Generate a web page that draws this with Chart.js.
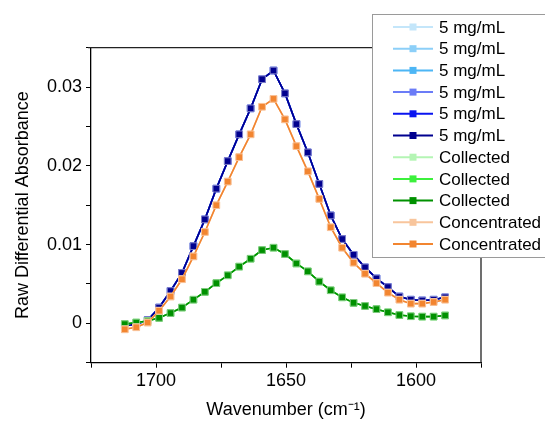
<!DOCTYPE html>
<html>
<head>
<meta charset="utf-8">
<script src="https://cdn.jsdelivr.net/npm/chart.js@4.4.1/dist/chart.umd.min.js"></script>
<style>
  html, body { margin: 0; padding: 0; background: #fff; }
  #wrap { width: 545px; height: 421px; }
</style>
</head>
<body>
<div id="wrap"><canvas id="myChart" width="545" height="421"></canvas></div>
<script>
// wavenumbers (cm-1)
const wavenumber = [1712.0, 1707.6, 1703.2, 1698.8, 1694.4, 1690.0, 1685.6, 1681.2, 1676.8, 1672.4,
    1668.0, 1663.6, 1659.2, 1654.8, 1650.4, 1646.0, 1641.6, 1637.2, 1632.8, 1628.4,
    1624.0, 1619.6, 1615.2, 1610.8, 1606.4, 1602.0, 1597.6, 1593.2, 1588.8];

// the 5 mg/mL traces sit on top of each other
const fiveMg = [-0.0003, -0.0001, 0.0004, 0.0020, 0.0041, 0.0064, 0.0098, 0.0132, 0.0171, 0.0206,
    0.0240, 0.0273, 0.0310, 0.0321, 0.0292, 0.0253, 0.0217, 0.0177, 0.0137, 0.0107,
    0.0087, 0.0071, 0.0057, 0.0046, 0.0034, 0.0030, 0.0029, 0.0030, 0.0033];

const collected = [-0.0001, 0.0001, 0.0003, 0.0007, 0.0013, 0.0020, 0.0030, 0.0040, 0.0051, 0.0061,
    0.0072, 0.0082, 0.0093, 0.0096, 0.0088, 0.0076, 0.0066, 0.0053, 0.0042, 0.0033,
    0.0026, 0.0022, 0.0018, 0.0014, 0.00105, 0.0009, 0.00085, 0.00085, 0.0010];

const concentrated = [-0.00076, -0.0005, 0.0001, 0.0016, 0.0034, 0.0056, 0.0085, 0.0116, 0.0150, 0.0180,
    0.0211, 0.0240, 0.0275, 0.0285, 0.0259, 0.0225, 0.0193, 0.0158, 0.0122, 0.0096,
    0.0077, 0.0063, 0.0051, 0.0039, 0.0030, 0.0025, 0.0025, 0.0027, 0.0030];

const seriesLabels = ['5 mg/mL', '5 mg/mL', '5 mg/mL', '5 mg/mL', '5 mg/mL', '5 mg/mL',
    'Collected', 'Collected', 'Collected', 'Concentrated', 'Concentrated'];
const seriesValues = [fiveMg, fiveMg, fiveMg, fiveMg, fiveMg, fiveMg,
    collected, collected, collected, concentrated, concentrated];
const seriesColors = ['#c4e6fa', '#8ccff8', '#4db6f5', '#6b7cf7', '#0a14f0', '#00008f',
    '#b4f5b4', '#3cf03c', '#009100', '#f8c59c', '#f28530'];
const yMajorTicks = [0, 0.01, 0.02, 0.03];

const FONT = "'Liberation Sans', Arial, sans-serif";

function tint(hex, k) {
    const n = parseInt(hex.slice(1), 16);
    const r = (n >> 16) & 255, g = (n >> 8) & 255, b = n & 255;
    const m = c => Math.round(c + (255 - c) * k);
    return 'rgb(' + m(r) + ',' + m(g) + ',' + m(b) + ')';
}

// frame on top/right of plot
const framePlugin = {
    id: 'frame',
    afterDatasetsDraw(chart) {
        const { ctx, chartArea: a } = chart;
        ctx.save();
        ctx.strokeStyle = '#222';
        ctx.lineWidth = 1.3;
        ctx.beginPath();
        ctx.moveTo(a.left - 3, a.top);
        ctx.lineTo(a.right, a.top);
        ctx.lineTo(a.right, a.bottom);
        ctx.stroke();
        ctx.restore();
    }
};

// boxed legend that overlaps the top right corner of the plot
const boxLegend = {
    id: 'boxLegend',
    afterDraw(chart) {
        const ctx = chart.ctx;
        const x0 = 372, y0 = 14, h = 243, rowH = 21.7;
        ctx.save();
        ctx.fillStyle = '#fff';
        ctx.fillRect(x0, y0, 200, h);
        ctx.strokeStyle = '#9a9a9a';
        ctx.lineWidth = 1;
        ctx.strokeRect(x0 + 0.5, y0 + 0.5, 200, h);
        ctx.font = '17px ' + FONT;
        ctx.textBaseline = 'middle';
        chart.data.datasets.forEach((ds, i) => {
            const y = y0 + 13 + i * rowH;
            ctx.strokeStyle = ds.borderColor;
            ctx.lineWidth = 2;
            ctx.beginPath();
            ctx.moveTo(393, y);
            ctx.lineTo(433, y);
            ctx.stroke();
            ctx.fillStyle = ds.borderColor;
            ctx.fillRect(409.5, y - 3.5, 7, 7);
            ctx.fillStyle = '#000';
            ctx.fillText(ds.label, 439, y + 1);
        });
        ctx.restore();
    }
};

document.addEventListener("DOMContentLoaded", function() {
    const ctx = document.getElementById('myChart').getContext('2d');

    const datasets = seriesLabels.map((label, i) => ({
        label: label,
        data: wavenumber.map((w, j) => ({ x: w, y: seriesValues[i][j] })),
        borderColor: seriesColors[i],
        backgroundColor: seriesColors[i],
        pointBackgroundColor: seriesColors[i],
        pointBorderColor: tint(seriesColors[i], 0.5),
        pointBorderWidth: 1,
        borderWidth: 1.6,
        pointStyle: 'rect',
        pointRadius: 4.7,
        tension: 0,
        fill: false,
        order: -i // later series drawn on top
    }));

    const options = {
        responsive: false,
        animation: false,
        layout: { padding: { left: 0, top: 47.7, right: 64, bottom: 0 } },
        scales: {
            x: {
                type: 'linear',
                reverse: true,
                min: 1575,
                max: 1725,
                afterFit: s => { s.height = 58.3; },
                border: { display: true, color: '#000', width: 1.3 },
                grid: { drawOnChartArea: false, color: '#000', tickLength: 5 },
                ticks: {
                    stepSize: 25,
                    autoSkip: false,
                    maxRotation: 0,
                    padding: 3,
                    color: '#000',
                    font: { family: FONT, size: 18 },
                    callback: v => (v % 50 === 0 ? String(v) : '')
                },
                title: {
                    display: true,
                    text: 'Wavenumber (cm\u207B\u00B9)',
                    color: '#000',
                    font: { family: FONT, size: 18 },
                    padding: { top: 0, bottom: 0 }
                }
            },
            y: {
                min: -0.005,
                max: 0.035,
                afterFit: s => { s.width = 91; },
                border: { display: true, color: '#000', width: 1.3 },
                grid: { drawOnChartArea: false, color: '#000', tickLength: 5 },
                ticks: {
                    stepSize: 0.005,
                    autoSkip: false,
                    padding: 4,
                    color: '#000',
                    font: { family: FONT, size: 18 },
                    callback: function(value) {
                        const t = yMajorTicks.find(m => Math.abs(m - value) < 1e-6);
                        if (t === undefined) return '';
                        return t === 0 ? '0' : t.toFixed(2);
                    }
                },
                title: {
                    display: true,
                    text: 'Raw Differential Absorbance',
                    color: '#000',
                    font: { family: FONT, size: 18 },
                    padding: { top: 12, bottom: 0 }
                }
            }
        },
        plugins: {
            legend: { display: false },
            tooltip: { enabled: false }
        }
    };

    new Chart(ctx, {
        type: 'line',
        data: { datasets: datasets },
        options: options,
        plugins: [framePlugin, boxLegend]
    });
});
</script>
</body>
</html>
